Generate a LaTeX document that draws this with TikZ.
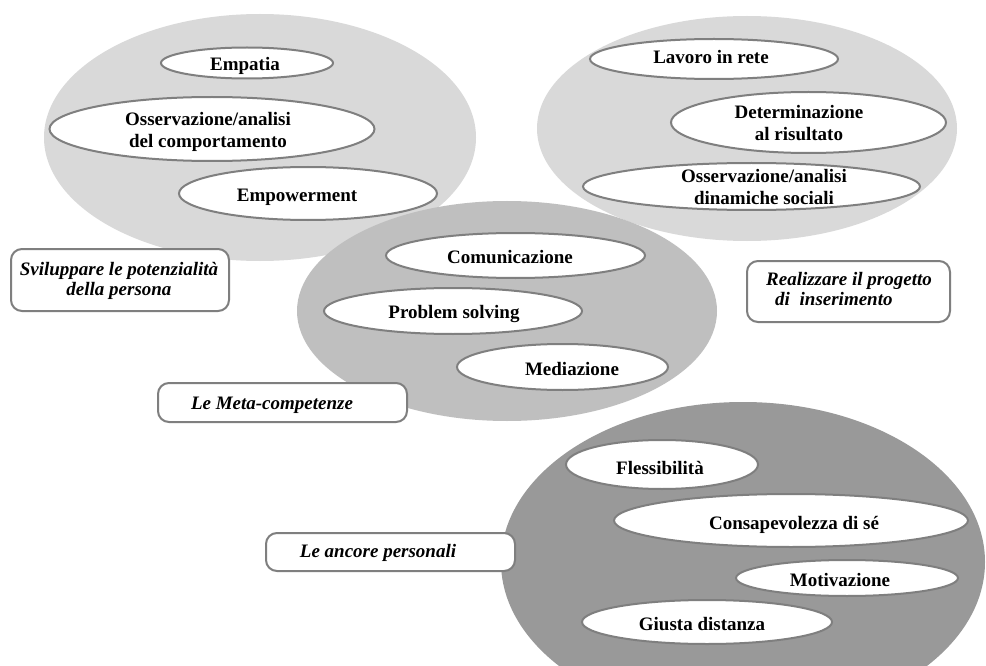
\documentclass[tikz,border=0pt]{standalone}
\usepackage{fontspec}
\setmainfont{Liberation Serif}
\usetikzlibrary{shapes.geometric}
\definecolor{zonelight}{HTML}{D9D9D9}
\definecolor{zonemid}{HTML}{BFBFBF}
\definecolor{zonedark}{HTML}{999999}
\definecolor{rim}{HTML}{7F7F7F}
\begin{document}
\begin{tikzpicture}[x=1pt,y=-1pt,
  zone/.style args={#1/#2/#3}{ellipse, draw=none, fill=#1, inner sep=0pt,
    minimum width=#2pt, minimum height=#3pt},
  oval/.style args={#1/#2}{ellipse, draw=rim, line width=2pt, fill=white,
    inner sep=0pt, minimum width=#1pt, minimum height=#2pt},
  tagbox/.style args={#1/#2}{rectangle, rounded corners=11pt, draw=rim,
    line width=2pt, fill=white, inner sep=0pt,
    minimum width=#1pt, minimum height=#2pt},
  word/.style={inner sep=0pt, align=center,
    font=\fontsize{19}{22}\selectfont\bfseries},
  tagword/.style={word, font=\fontsize{19}{20}\selectfont\bfseries\itshape}]

\useasboundingbox (0,0) rectangle (986,666);
\fill[white] (0,0) rectangle (986,666);
\clip (0,0) rectangle (986,666);

% --- Sviluppare le potenzialita' della persona
\node[zone=zonelight/432/247] (grpA) at (260,137.5) {};
% --- Realizzare il progetto di inserimento
\node[zone=zonelight/420/225] (grpB) at (747,128.5) {};

\node[oval=172/31]  (empatia) at (247,63) {};
\node[word, anchor=base] (empatia-t) at (245,71) {Empatia};
\node[oval=325/64]  (osscomp) at (212,129) {};
\node[word] (osscomp-t) at (208,131.5) {Osservazione/analisi\\del comportamento};
\node[oval=258/53]  (empow) at (308,193.5) {};
\node[word, anchor=base] (empow-t) at (297,202) {Empowerment};

\node[oval=248/40]  (rete) at (714,59) {};
\node[word, anchor=base] (rete-t) at (711,63.5) {Lavoro in rete};
\node[oval=275/61]  (determ) at (808.5,122.5) {};
\node[word] (determ-t) at (799,123) {Determinazione\\al risultato};
\node[oval=337/47]  (ossdin) at (751.5,186.5) {};
\node[word] (ossdin-t) at (764,187) {Osservazione/analisi\\dinamiche sociali};

% --- Le meta-competenze
\node[zone=zonemid/420/220] (grpC) at (507,311) {};
\node[oval=259/45]  (comun) at (515.5,255.5) {};
\node[word, anchor=base] (comun-t) at (510,263.3) {Comunicazione};
\node[oval=258/46]  (probl) at (453,311) {};
\node[word, anchor=base] (probl-t) at (454,318.3) {Problem solving};
\node[oval=211/46]  (media) at (562.5,367) {};
\node[word, anchor=base] (media-t) at (572,375) {Mediazione};

% --- Le ancore personali
\node[zone=zonedark/484/320] (grpD) at (743,562) {};
\node[oval=192/49]  (fless) at (662,464.5) {};
\node[word, anchor=base] (fless-t) at (660,474) {Flessibilità};
\node[oval=354/53]  (consap) at (791,520.5) {};
\node[word, anchor=base] (consap-t) at (794,529.3) {Consapevolezza di sé};
\node[oval=222/36]  (motiv) at (847,578) {};
\node[word, anchor=base] (motiv-t) at (840,586.7) {Motivazione};
\node[oval=250/44]  (giusta) at (707,622) {};
\node[word, anchor=base] (giusta-t) at (702,630.7) {Giusta distanza};

% --- captions
\node[tagbox=218/62] (capA) at (120,280) {};
\node[tagword] (capA-t) at (119,281) {Sviluppare le potenzialità\\della persona};
\node[tagbox=203/61] (capB) at (848.5,291.5) {};
\node[tagword, align=left] (capB-t) at (849,289) {Realizzare il progetto\\\hspace*{9pt}di\hspace{5pt} inserimento};
\node[tagbox=249/39] (capC) at (282.5,402.5) {};
\node[tagword, anchor=base] (capC-t) at (272,409.3) {Le Meta-competenze};
\node[tagbox=249/38] (capD) at (390.5,552) {};
\node[tagword, anchor=base] (capD-t) at (378,557.3) {Le ancore personali};
\end{tikzpicture}
\end{document}
